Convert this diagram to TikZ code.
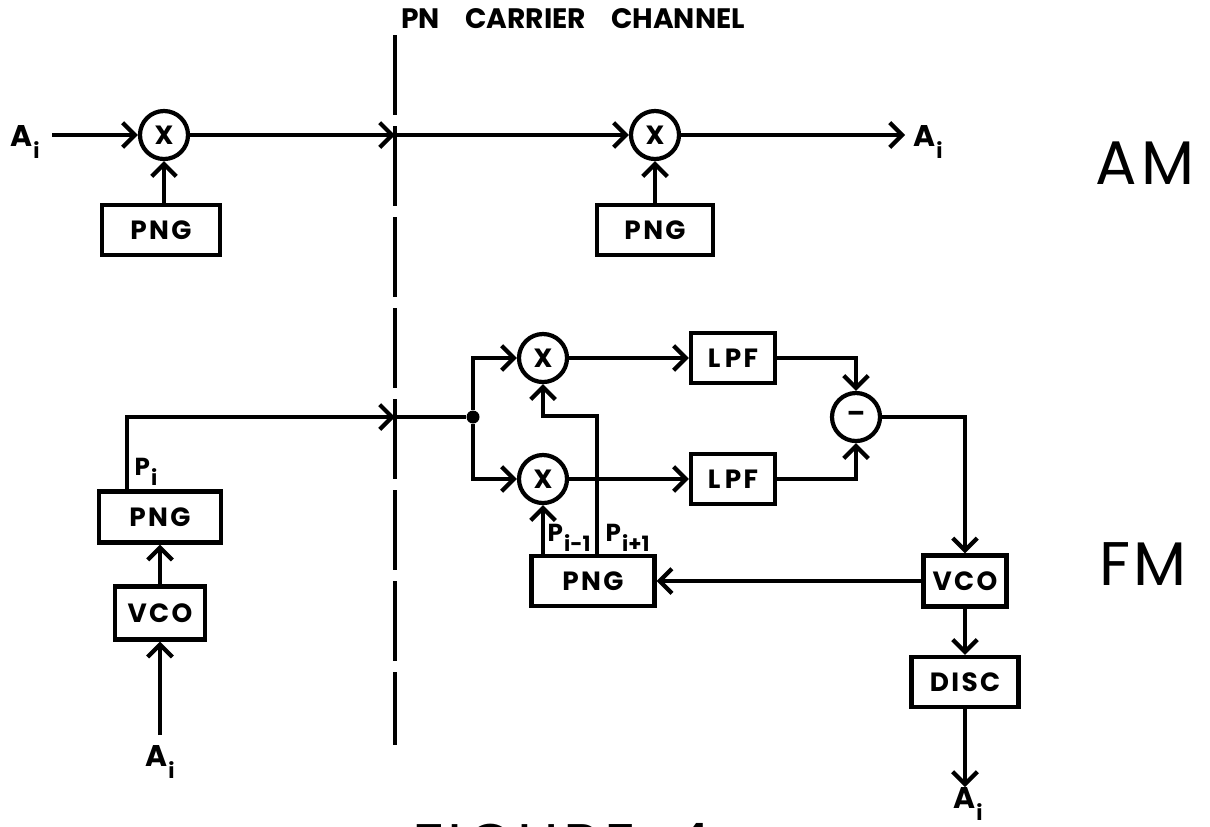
\documentclass[tikz,border=0pt]{standalone}
\usepackage{fontspec}
\setmainfont{Poppins}
\usepackage{tikz}
\usetikzlibrary{positioning,arrows.meta}
\tikzset{
  blk/.style    = {draw, line width=1.2pt, minimum height=0.5cm, inner sep=0pt,
                   font=\bfseries\fontsize{7.5}{8}\selectfont\addfontfeature{LetterSpace=9}},
  mixer/.style  = {circle, draw, line width=1.2pt, minimum size=0.48cm, inner sep=0pt,
                   font=\bfseries\fontsize{7.5}{8}\selectfont},
  sig/.style    = {line width=1.2pt, -{Straight Barb[length=3.5pt,width=7pt]}},
  wire/.style   = {line width=1.2pt},
  chan/.style   = {line width=1.2pt, dash pattern=on 0.8cm off 0.11cm},
  jdot/.style   = {circle, fill, minimum size=0.13cm, inner sep=0pt},
  siglbl/.style = {font=\bfseries\fontsize{8.5}{9}\selectfont, inner sep=0pt},
  pnlbl/.style  = {font=\bfseries\fontsize{7}{8}\selectfont, inner sep=0pt, anchor=south west},
  modlbl/.style = {font=\fontsize{17.5}{18}\selectfont\addfontfeature{LetterSpace=6}, inner sep=0pt}
}
\newcommand{\lowsub}[2]{#1\kern0.3pt\raisebox{-0.75ex}{\fontsize{6}{6}\selectfont #2}}

\begin{document}
\begin{tikzpicture}[x=0.01cm, y=-0.01cm]
  \useasboundingbox (0,0) rectangle (1210,826);
  \fill[white] (0,0) rectangle (1210,826);
  % Channel boundary
  \node[siglbl, font=\bfseries\fontsize{8}{9}\selectfont] (ttl) at (573,19)
    {PN\hspace{0.9em}CARRIER\hspace{0.9em}CHANNEL};
  \coordinate (chtop) at (395,35);
  \coordinate (chbot) at (395,745);
  \draw[chan] (chtop) -- (chbot);
  % AM link
  \node[siglbl] (ain)  at (25,142) {\lowsub{A}{i}};
  \node[mixer]  (mx1)  at (164,135) {X};
  \node[blk, minimum width=1.18cm] (png1) at (161,230) {PNG};
  \node[mixer]  (mx2)  at (655,135) {X};
  \node[blk, minimum width=1.16cm] (png2) at (655,230) {PNG};
  \node[siglbl] (aout) at (928,142) {\lowsub{A}{i}};
  \coordinate (amin)  at (52,135);
  \coordinate (amch)  at (395,135);
  \coordinate (amout) at (905,135);
  \draw[sig] (amin) -- (mx1);
  \draw[sig] (png1.north -| mx1) -- (mx1);
  \draw[sig] (mx1) -- (amch);
  \draw[sig] (amch) -- (mx2);
  \draw[sig] (png2) -- (mx2);
  \draw[sig] (mx2) -- (amout);
  \node[modlbl] (am) at (1145,163) {AM};
  % FM transmitter
  \node[siglbl] (ainL) at (160,762) {\lowsub{A}{i}};
  \node[blk, minimum width=0.9cm, minimum height=0.53cm] (vcoL) at (160,613) {VCO};
  \node[blk, minimum width=1.22cm, minimum height=0.51cm] (pngL) at (160,517) {PNG};
  \node[pnlbl] (pi) at (134,486) {\lowsub{P}{i}};
  \coordinate (fmin)  at (160,735);
  \coordinate (pitop) at (127,417);
  \coordinate (fmch)  at (395,417);
  \draw[sig] (fmin) -- (vcoL);
  \draw[sig] (vcoL) -- (pngL);
  \draw[sig] (pngL.north -| pitop) -- (pitop) -- (fmch);
  % FM receiver
  \node[jdot]  (jn)   at (473,417) {};
  \node[mixer] (mxU)  at (543,358) {X};
  \node[mixer] (mxD)  at (543,479) {X};
  \node[blk, minimum width=0.84cm] (lpfU) at (733,358) {L\,PF};
  \node[blk, minimum width=0.84cm] (lpfD) at (733,479) {L\,PF};
  \node[mixer] (sub)  at (856,417) {--};
  \node[blk, minimum width=0.83cm, minimum height=0.51cm] (vcoR) at (965,581) {VCO};
  \node[blk, minimum width=1.23cm] (pngR) at (593,581) {PNG};
  \node[blk, minimum width=1.07cm] (discR) at (965,682) {DISC};
  \node[siglbl] (aoutF) at (968,804) {\lowsub{A}{i}};
  \node[pnlbl] (pm) at (547,552) {\lowsub{P}{i-1}};
  \node[pnlbl] (pp) at (605,552) {\lowsub{P}{i+1}};
  \coordinate (pbend) at (597,416);
  \coordinate (fmout) at (965,787);
  \draw[wire] (fmch) -- (jn);
  \draw[sig] (jn) |- (mxU);
  \draw[sig] (jn) |- (mxD);
  \draw[sig] (mxU) -- (lpfU);
  \draw[sig] (mxD) -- (lpfD);
  \draw[sig] (lpfU) -| (sub);
  \draw[sig] (lpfD) -| (sub);
  \draw[sig] (sub) -| (vcoR);
  \draw[sig] (vcoR) -- (pngR);
  \draw[sig] (pngR.north -| mxD) -- (mxD);
  \draw[sig] (pngR.north -| pbend) -- (pbend) -| (mxU);
  \draw[sig] (vcoR) -- (discR);
  \draw[sig] (discR) -- (fmout);
  \node[modlbl] (fm) at (1143,564) {FM};
  % Caption, cut by the page edge
  \node[modlbl, anchor=north] (cap) at (562,823) {FIGURE\hspace{0.6em}4};
\end{tikzpicture}
\end{document}
